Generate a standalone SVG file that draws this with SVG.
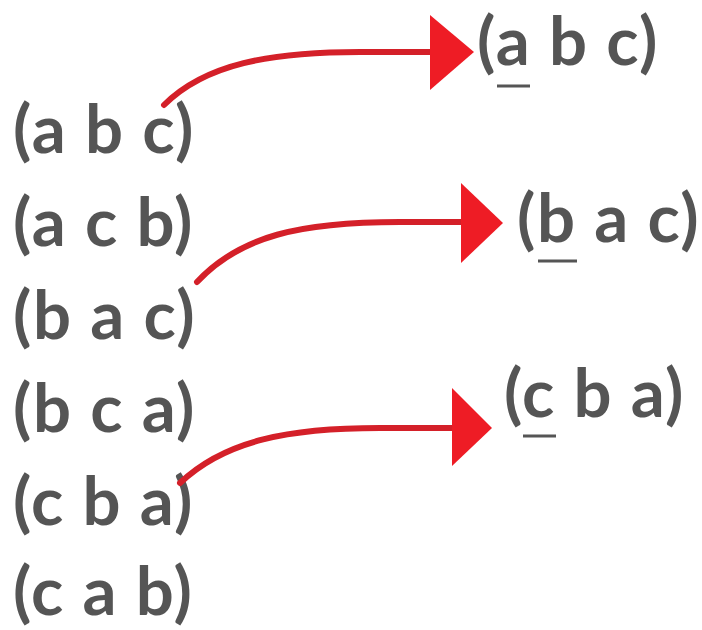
<svg xmlns="http://www.w3.org/2000/svg" width="702" height="630" viewBox="0 0 702 630">
<style>
.t{font-family:Lato,"Liberation Sans",sans-serif;font-weight:bold;font-size:67px;letter-spacing:1.5px;fill:#555555;}
.u{stroke:#555555;stroke-width:3;}
.c{fill:none;stroke:#d42029;stroke-width:6;stroke-linecap:round;}
.h{fill:#ee1c25;}
</style>
<rect width="702" height="630" fill="#ffffff"/>
<g id="left">
<g id="l1"><text class="t" x="13" y="153">(a b c)</text></g>
<g id="l2"><text class="t" x="13" y="246">(a c b)</text></g>
<g id="l3"><text class="t" x="13" y="339">(b a c)</text></g>
<g id="l4"><text class="t" x="13" y="432">(b c a)</text></g>
<g id="l5"><text class="t" x="13" y="525">(c b a)</text></g>
<g id="l6"><text class="t" x="13" y="615">(c a b)</text></g>
</g>
<g id="r1"><text class="t" x="477" y="65">(a b c)</text><line class="u" x1="497" y1="86" x2="530" y2="86"/></g>
<g id="r2"><text class="t" x="517" y="242">(b a c)</text><line class="u" x1="538" y1="261" x2="577" y2="261"/></g>
<g id="r3"><text class="t" x="504" y="417">(c b a)</text><line class="u" x1="523" y1="436" x2="556" y2="436"/></g>
<g id="connectors">
<path class="c" d="M164,105 C205,64 270,52 360,52 L436,52"/>
<polygon class="h" points="430,15 474,52 430,90"/>
<path class="c" d="M197,282 C240,236 300,222 400,222 L466,222"/>
<polygon class="h" points="461,183 503,223 461,263"/>
<path class="c" d="M180,483 C225,440 290,428 380,428 L456,428"/>
<polygon class="h" points="452,388 492,428 452,466"/>
</g>
</svg>
